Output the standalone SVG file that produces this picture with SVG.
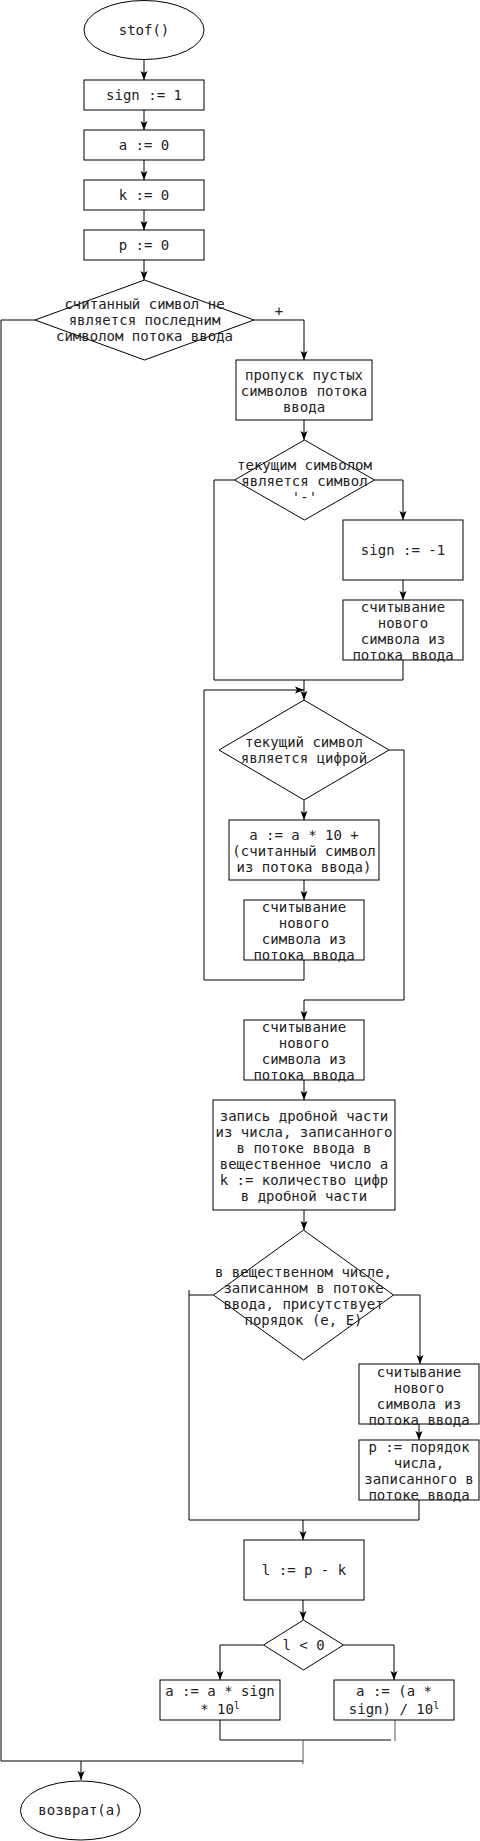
<svg xmlns="http://www.w3.org/2000/svg" width="480" height="1841" viewBox="0 0 480 1841">
<defs>
<style>
.s{fill:#fff;stroke:#000;stroke-width:1}
.t{font-family:"DejaVu Sans Mono","Liberation Mono",monospace;font-size:14px;fill:#222;text-anchor:middle}
.c{fill:none;stroke:#000;stroke-width:1}
.g{fill:none;stroke:#555;stroke-width:1}
.a{marker-end:url(#arr)}
</style>
<marker id="arr" viewBox="0 0 10 8" markerWidth="10" markerHeight="8" refX="9" refY="4" orient="auto" markerUnits="userSpaceOnUse">
<path d="M0,0.5 L9,4 L0,7.5 L2,4 Z" fill="#000"/>
</marker>
</defs>
<rect width="480" height="1841" fill="#fff"/>
<g id="connectors">
<path class="c a" d="M144,60 V80"/>
<path class="c a" d="M144,110 V130"/>
<path class="c a" d="M144,160 V180"/>
<path class="c a" d="M144,210 V230"/>
<path class="c a" d="M144,260 V280"/>
<path class="c a" d="M254,320 H304 V360"/>
<path class="c" d="M35,320 H1 V1761 H303"/>
<path class="c a" d="M81,1761 V1780"/>
<path class="c a" d="M304,420 V440"/>
<path class="c a" d="M374.5,480 H403 V520"/>
<path class="c a" d="M403,580 V600"/>
<path class="c" d="M403,660 V680 H214 V480 H234.5"/>
<path class="c a" d="M304,680 V700"/>
<path class="c a" d="M304,960 V980 H204 V690 H304"/>
<path class="c a" d="M304,800 V820"/>
<path class="c a" d="M304,880 V900"/>
<path class="c a" d="M389,750 H404 V1000 H304 V1020"/>
<path class="c a" d="M304,1080 V1100"/>
<path class="c a" d="M304,1210 V1230"/>
<path class="c a" d="M393.5,1295 H420 V1364"/>
<path class="c a" d="M419,1424 V1440"/>
<path class="c" d="M419,1500 V1520 H189 V1290"/>
<path class="c" d="M213.5,1295 H189"/>
<path class="c a" d="M303,1520 V1540"/>
<path class="c a" d="M303,1600 V1620"/>
<path class="c a" d="M263.5,1645 H220 V1680"/>
<path class="c a" d="M343.5,1645 H394 V1680"/>
<path class="c" d="M220,1720 V1740 H391"/>
<path class="g" d="M395,1720 V1741"/>
<path class="g" d="M303,1740 V1764"/>
<text class="t" x="279" y="316">+</text>
</g>
<g id="start">
<ellipse class="s" cx="144" cy="30" rx="60" ry="29.5"/>
<text class="t" x="144" y="35">stof()</text>
</g>
<g id="sign1">
<rect class="s" x="84" y="80" width="120" height="30"/>
<text class="t" x="144" y="100">sign := 1</text>
</g>
<g id="a0">
<rect class="s" x="84" y="130" width="120" height="30"/>
<text class="t" x="144" y="150">a := 0</text>
</g>
<g id="k0">
<rect class="s" x="84" y="180" width="120" height="30"/>
<text class="t" x="144" y="200">k := 0</text>
</g>
<g id="p0">
<rect class="s" x="84" y="230" width="120" height="30"/>
<text class="t" x="144" y="250">p := 0</text>
</g>
<g id="cond1">
<polygon class="s" points="144.5,280 254,320 144.5,360 35,320"/>
<text class="t" x="144.5" y="309">считанный символ не</text>
<text class="t" x="144.5" y="325">является последним</text>
<text class="t" x="144.5" y="341">символом потока ввода</text>
</g>
<g id="skip">
<rect class="s" x="236" y="360" width="136" height="60"/>
<text class="t" x="304" y="380">пропуск пустых</text>
<text class="t" x="304" y="396">символов потока</text>
<text class="t" x="304" y="412">ввода</text>
</g>
<g id="cond2">
<polygon class="s" points="304.5,440 374.5,480 304.5,520 234.5,480"/>
<text class="t" x="304.5" y="470">текущим символом</text>
<text class="t" x="304.5" y="486">является символ</text>
<text class="t" x="304.5" y="502">'-'</text>
</g>
<g id="signm1">
<rect class="s" x="343" y="520" width="120" height="60"/>
<text class="t" x="403" y="555">sign := -1</text>
</g>
<g id="read1">
<rect class="s" x="343" y="600" width="120" height="60"/>
<text class="t" x="403" y="612">считывание</text>
<text class="t" x="403" y="628">нового</text>
<text class="t" x="403" y="644">символа из</text>
<text class="t" x="403" y="660">потока ввода</text>
</g>
<g id="cond3">
<polygon class="s" points="304,700 389,750 304,800 219,750"/>
<text class="t" x="304" y="747">текущий символ</text>
<text class="t" x="304" y="763">является цифрой</text>
</g>
<g id="calc">
<rect class="s" x="229" y="820" width="150" height="60"/>
<text class="t" x="304" y="840">a := a * 10 +</text>
<text class="t" x="304" y="856">(считанный символ</text>
<text class="t" x="304" y="872">из потока ввода)</text>
</g>
<g id="read2">
<rect class="s" x="244" y="900" width="120" height="60"/>
<text class="t" x="304" y="912">считывание</text>
<text class="t" x="304" y="928">нового</text>
<text class="t" x="304" y="944">символа из</text>
<text class="t" x="304" y="960">потока ввода</text>
</g>
<g id="read3">
<rect class="s" x="244" y="1020" width="120" height="60"/>
<text class="t" x="304" y="1032">считывание</text>
<text class="t" x="304" y="1048">нового</text>
<text class="t" x="304" y="1064">символа из</text>
<text class="t" x="304" y="1080">потока ввода</text>
</g>
<g id="frac">
<rect class="s" x="213" y="1100" width="182" height="110"/>
<text class="t" x="304" y="1121">запись дробной части</text>
<text class="t" x="304" y="1137">из числа, записанного</text>
<text class="t" x="304" y="1153">в потоке ввода в</text>
<text class="t" x="304" y="1169">вещественное число a</text>
<text class="t" x="304" y="1185">k := количество цифр</text>
<text class="t" x="304" y="1201">в дробной части</text>
</g>
<g id="cond4">
<polygon class="s" points="303.5,1230 393.5,1295 303.5,1360 213.5,1295"/>
<text class="t" x="303.5" y="1277">в вещественном числе,</text>
<text class="t" x="303.5" y="1293">записанном в потоке</text>
<text class="t" x="303.5" y="1309">ввода, присутствует</text>
<text class="t" x="303.5" y="1325">порядок (e, E)</text>
</g>
<g id="read4">
<rect class="s" x="359" y="1364" width="120" height="60"/>
<text class="t" x="419" y="1377">считывание</text>
<text class="t" x="419" y="1393">нового</text>
<text class="t" x="419" y="1409">символа из</text>
<text class="t" x="419" y="1425">потока ввода</text>
</g>
<g id="pord">
<rect class="s" x="359" y="1440" width="120" height="60"/>
<text class="t" x="419" y="1452">p := порядок</text>
<text class="t" x="419" y="1468">числа,</text>
<text class="t" x="419" y="1484">записанного в</text>
<text class="t" x="419" y="1500">потоке ввода</text>
</g>
<g id="lcalc">
<rect class="s" x="244" y="1540" width="120" height="60"/>
<text class="t" x="304" y="1575">l := p - k</text>
</g>
<g id="cond5">
<polygon class="s" points="303.5,1620 343.5,1645 303.5,1670 263.5,1645"/>
<text class="t" x="303.5" y="1650">l &lt; 0</text>
</g>
<g id="mul">
<rect class="s" x="160" y="1680" width="120" height="40"/>
<text class="t" x="220" y="1696">a := a * sign</text>
<text class="t" x="220" y="1714">* 10<tspan dy="-5" font-size="10">l</tspan></text>
</g>
<g id="div">
<rect class="s" x="334" y="1680" width="120" height="40"/>
<text class="t" x="394" y="1696">a := (a *</text>
<text class="t" x="394" y="1714">sign) / 10<tspan dy="-5" font-size="10">l</tspan></text>
</g>
<g id="end">
<ellipse class="s" cx="80.5" cy="1810.5" rx="60" ry="29.5"/>
<text class="t" x="80.5" y="1815">возврат(a)</text>
</g>
</svg>
